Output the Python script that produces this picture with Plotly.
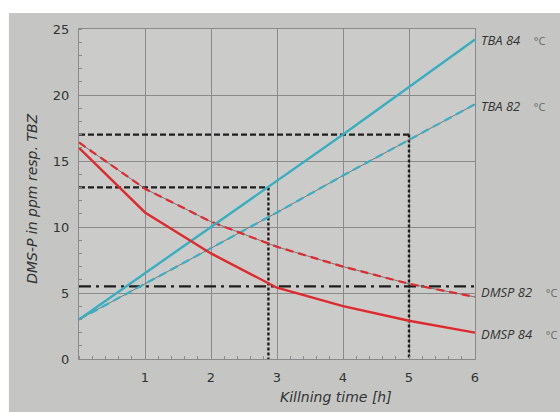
import plotly.graph_objects as go

# Killing time in hours
hours = [0, 1, 2, 3, 4, 5, 6]

# DMS-P / TBA concentration (ppm resp. TBZ)
tba_84 = [3.0, 6.5, 10.0, 13.5, 17.0, 20.6, 24.2]
tba_82 = [3.0, 5.7, 8.4, 11.1, 13.9, 16.6, 19.3]
dmsp_82 = [16.4, 12.9, 10.4, 8.5, 7.0, 5.7, 4.7]
dmsp_84 = [16.0, 11.1, 8.0, 5.4, 4.0, 2.9, 2.0]

# Read-off guides: level -> killing time
guide_levels = [17.0, 13.0]
guide_times = [5.0, 2.87]
limit_level = 5.5

x_ticks = [1, 2, 3, 4, 5, 6]
y_ticks = [0, 5, 10, 15, 20, 25]

CYAN = "#3aaec0"
RED = "#de2a2e"
TEXT = "#333333"
GRID = "#8a8a8a"
FONT = "Open Sans"
WIDE = "DejaVu Sans"

fig = go.Figure()

# Reference guide lines (dashed horizontals, dotted verticals)
for lvl, t in zip(guide_levels, guide_times):
    fig.add_trace(go.Scatter(x=[0, t], y=[lvl, lvl], mode="lines",
                             line=dict(color="#1e1e1e", width=2.4, dash="6px,3px"),
                             hoverinfo="skip", showlegend=False))
    fig.add_trace(go.Scatter(x=[t, t], y=[lvl, 0], mode="lines",
                             line=dict(color="#1e1e1e", width=2.4, dash="3px,2px"),
                             hoverinfo="skip", showlegend=False))

fig.add_trace(go.Scatter(x=[0, 6], y=[limit_level, limit_level], mode="lines",
                         line=dict(color="#1e1e1e", width=2.2, dash="12px,5px,3px,5px"),
                         hoverinfo="skip", showlegend=False))

# 82 °C curves: thin gray line with coloured dashes on top
for ys, col in [(tba_82, CYAN), (dmsp_82, RED)]:
    fig.add_trace(go.Scatter(x=hours, y=ys, mode="lines",
                             line=dict(color="#777777", width=1),
                             hoverinfo="skip", showlegend=False))
    fig.add_trace(go.Scatter(x=hours, y=ys, mode="lines",
                             line=dict(color=col, width=2.2, dash="8px,5px"),
                             showlegend=False))

# 84 °C curves: solid
fig.add_trace(go.Scatter(x=hours, y=tba_84, mode="lines",
                         line=dict(color=CYAN, width=2.4), showlegend=False))
fig.add_trace(go.Scatter(x=hours, y=dmsp_84, mode="lines",
                         line=dict(color=RED, width=2.4), showlegend=False))

# Curve labels at the right end
labels = [("TBA 84", tba_84[-1]), ("TBA 82", tba_82[-1] - 0.1),
          ("DMSP 82", dmsp_82[-1] + 0.4), ("DMSP 84", dmsp_84[-1] - 0.1)]
for name, yv in labels:
    fig.add_annotation(x=6, y=yv, xref="x", yref="y", xanchor="left", yanchor="middle",
                       xshift=4, showarrow=False,
                       text=f"<i>{name}</i>&nbsp;&nbsp;&nbsp;&nbsp;<span style='color:#666666;font-size:11px'>°C</span>",
                       font=dict(family=FONT, size=13, color=TEXT))

# Axis titles
fig.add_annotation(x=3.9, y=-0.115, xref="x", yref="paper", showarrow=False,
                   xanchor="center", yanchor="middle",
                   text="<i>Killning time [h]</i>",
                   font=dict(family=WIDE, size=14, color=TEXT))
fig.add_annotation(x=-0.119, y=0.485, xref="paper", yref="paper", showarrow=False,
                   xanchor="center", yanchor="middle", textangle=-90,
                   text="<i>DMS-P in ppm resp. TBZ</i>",
                   font=dict(family=WIDE, size=14, color=TEXT))

# Paper background
fig.add_shape(type="rect", xref="paper", yref="paper", layer="below",
              x0=-0.177, x1=1.22, y0=-0.17, y1=1.0485,
              fillcolor="#c5c6c3", line=dict(width=0))
fig.add_shape(type="rect", xref="paper", yref="paper", layer="below",
              x0=0, x1=1, y0=0, y1=1,
              fillcolor="#cbccc9", line=dict(width=0))

fig.update_xaxes(range=[0, 6], tickvals=x_ticks, ticktext=[str(v) for v in x_ticks],
                 showgrid=True, gridcolor=GRID, gridwidth=1, zeroline=False,
                 showline=True, linecolor=GRID, linewidth=1, mirror=True,
                 ticks="", tickfont=dict(family=WIDE, size=13, color=TEXT),
                 ticklabelstandoff=6,
                 minor=dict(dtick=0.2, ticks="inside", ticklen=3, tickcolor=GRID, showgrid=False))
fig.update_yaxes(range=[0, 25], tickvals=y_ticks, ticktext=[str(v) for v in y_ticks],
                 showgrid=True, gridcolor=GRID, gridwidth=1, zeroline=False,
                 showline=True, linecolor=GRID, linewidth=1, mirror=True,
                 ticks="", tickfont=dict(family=WIDE, size=13, color=TEXT),
                 ticklabelstandoff=6,
                 minor=dict(dtick=1, ticks="inside", ticklen=3, tickcolor=GRID, showgrid=False))

fig.update_layout(width=560, height=412,
                  margin=dict(l=79, r=85, t=29, b=53),
                  paper_bgcolor="white", plot_bgcolor="rgba(0,0,0,0)",
                  showlegend=False)

fig.write_html("out.html")
